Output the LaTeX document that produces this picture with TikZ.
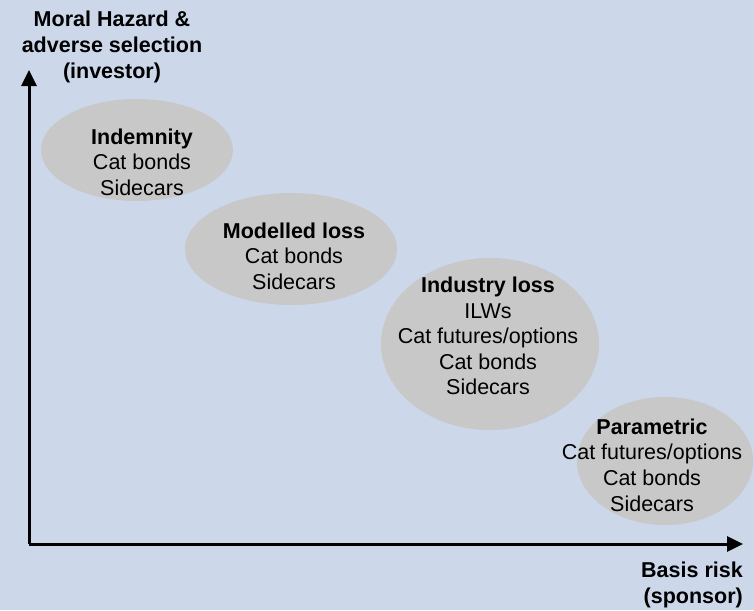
\documentclass[tikz,border=0pt]{standalone}
\usepackage{fontspec}
\setmainfont{Liberation Sans}
\usetikzlibrary{shapes.geometric,arrows.meta}
\definecolor{bgblue}{HTML}{CCD7E9}
\definecolor{blobgray}{HTML}{C8C8C8}
\begin{document}
\begin{tikzpicture}[x=1pt,y=-1pt,
  blob/.style={ellipse,fill=blobgray,draw=none,inner sep=0pt},
  label/.style={align=center,inner sep=0pt,font=\fontsize{21.5}{25.6}\selectfont},
  axis/.style={line width=3pt,-{Triangle[width=15pt,length=16pt]}}]
  % canvas
  \fill[bgblue] (0,0) rectangle (754,610);
  \useasboundingbox (0,0) rectangle (754,610);

  % regions of the trade-off
  \node[blob,minimum width=192pt,minimum height=102pt] (e1) at (137,150) {};
  \node[blob,minimum width=212pt,minimum height=112pt] (e2) at (291,249) {};
  \node[blob,minimum width=218pt,minimum height=172pt] (e3) at (490,344) {};
  \node[blob,minimum width=176pt,minimum height=128pt] (e4) at (665,461) {};

  \node[label] (t1) at (142,162) {\textbf{Indemnity}\\Cat bonds\\Sidecars};
  \node[label] (t2) at (294,256) {\textbf{Modelled loss}\\Cat bonds\\Sidecars};
  \node[label] (t3) at (488,336) {\textbf{Industry loss}\\ILWs\\Cat futures/options\\Cat bonds\\Sidecars};
  \node[label] (t4) at (652,465) {\textbf{Parametric}\\Cat futures/options\\Cat bonds\\Sidecars};

  % axes
  \coordinate (o) at (29,544);
  \coordinate (ytip) at (29,70);
  \coordinate (xtip) at (743,544);
  \draw[axis] (o) -- (ytip);
  \draw[axis] (o) -- (xtip);

  \node[label,font=\fontsize{21.5}{25.6}\selectfont\bfseries] (ylab) at (112,47)
    {Moral Hazard \&\\adverse selection\\(investor)};
  \node[label,align=right,anchor=east,font=\fontsize{21.5}{25.6}\selectfont\bfseries] (xlab) at (743,585)
    {Basis risk\\(sponsor)};
\end{tikzpicture}
\end{document}
